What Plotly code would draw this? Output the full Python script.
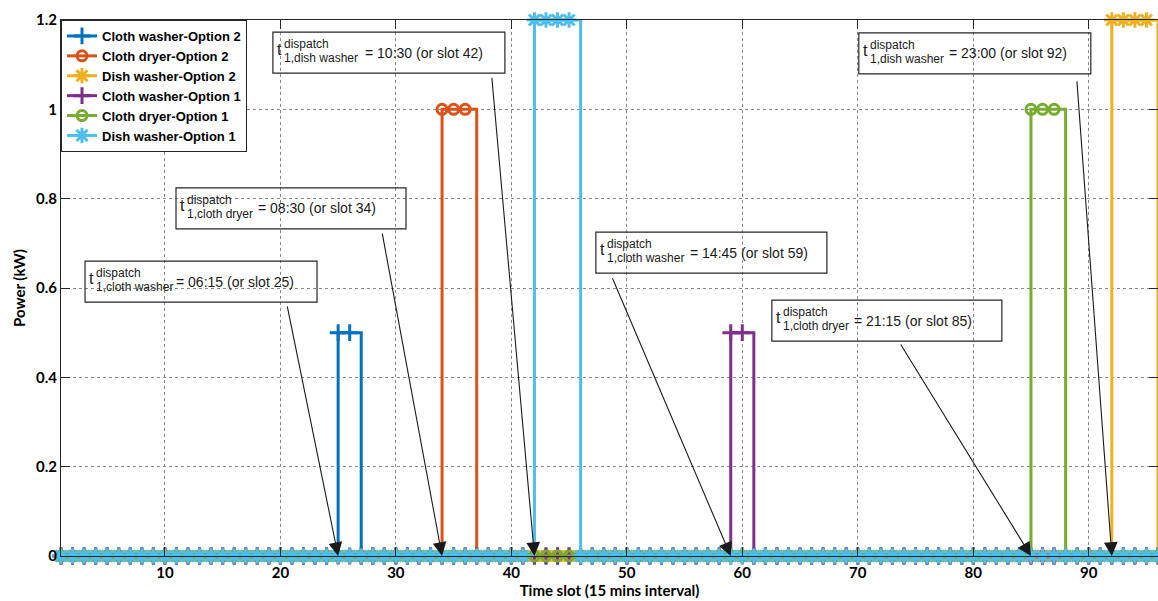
import plotly.graph_objects as go

# ---------------- data ----------------
slots = list(range(1, 97))

series_names = [
    "Cloth washer-Option 2",
    "Cloth dryer-Option 2",
    "Dish washer-Option 2",
    "Cloth washer-Option 1",
    "Cloth dryer-Option 1",
    "Dish washer-Option 1",
]
# slots in which each appliance is running, and its power (kW)
cloth_washer_opt2_on = [25, 26]
cloth_dryer_opt2_on = [34, 35, 36]
dish_washer_opt2_on = [92, 93, 94, 95]
cloth_washer_opt1_on = [59, 60]
cloth_dryer_opt1_on = [85, 86, 87]
dish_washer_opt1_on = [42, 43, 44, 45]
series_on = [cloth_washer_opt2_on, cloth_dryer_opt2_on, dish_washer_opt2_on,
             cloth_washer_opt1_on, cloth_dryer_opt1_on, dish_washer_opt1_on]
series_kw = [0.5, 1.0, 1.2, 0.5, 1.0, 1.2]

colors = ["#0072BD", "#D95319", "#EDB120", "#7E2F8E", "#77AC30", "#4DBEEE"]
symbols = ["cross-thin-open", "circle-open", "asterisk-open",
           "cross-thin-open", "circle-open", "asterisk-open"]
msizes = [12, 10, 13, 12, 10, 13]

# dispatch annotations
dispatch_appliance = ["cloth washer", "cloth dryer", "dish washer",
                      "cloth washer", "cloth dryer", "dish washer"]
dispatch_time = ["06:15", "08:30", "10:30", "14:45", "21:15", "23:00"]
dispatch_slot = [25, 34, 42, 59, 85, 92]

# ---------------- layout helpers (positions of label boxes) ----------------
box_anchor = [(3.08, 0.660), (10.96, 0.824), (19.35, 1.173),
              (47.32, 0.725), (62.56, 0.573), (70.09, 1.171)]
box_width = [232, 230, 232, 231, 230, 232]
box_height = 41
main_offset = [92, 83, 93, 95, 83, 91]
arrow_tail = [(20.57, 0.562), (28.8, 0.725), (38.3, 1.074),
              (48.7, 0.625), (73.64, 0.477), (88.97, 1.066)]

fig = go.Figure()
for name, on, kw, c, sym, ms in zip(series_names, series_on, series_kw,
                                     colors, symbols, msizes):
    vals = [kw if s in on else 0 for s in slots]
    fig.add_trace(go.Scatter(
        x=slots, y=vals, name=name, mode="lines+markers",
        line=dict(color=c, width=3, shape="hv"),
        marker=dict(symbol=sym, size=ms, color=c, line=dict(color=c, width=3)),
        cliponaxis=False,
    ))

txt_font = "Liberation Sans"
ink = "#1a1a1a"
shapes = []
annotations = []
for i in range(6):
    bx, by = box_anchor[i]
    shapes.append(dict(
        type="rect", xref="x", yref="y", xsizemode="pixel", ysizemode="pixel",
        xanchor=bx, yanchor=by, x0=0, x1=box_width[i], y0=0, y1=-box_height,
        line=dict(color="#262626", width=1.2), fillcolor="rgba(0,0,0,0)",
        layer="above"))

    def txt(t, dx, dy, size):
        annotations.append(dict(
            x=bx, y=by, xref="x", yref="y", text=t, showarrow=False,
            xanchor="left", yanchor="middle", xshift=dx, yshift=-dy,
            font=dict(family=txt_font, size=size, color=ink), borderpad=0))

    txt("t", 3, 17.5, 16)
    txt("dispatch", 10, 12, 12)
    txt("1," + dispatch_appliance[i], 10, 26, 12)
    txt("= %s (or slot %d)" % (dispatch_time[i], dispatch_slot[i]),
        main_offset[i] - 2, 20.5, 14)

    tx, ty = arrow_tail[i]
    annotations.append(dict(
        x=dispatch_slot[i], y=0, xref="x", yref="y",
        ax=tx, ay=ty, axref="x", ayref="y", text="", showarrow=True,
        arrowhead=2, arrowsize=2.5, arrowwidth=1.1, arrowcolor=ink, standoff=0))

axis_font = dict(family="Lato", size=15, color="black", weight="bold")
fig.update_layout(
    width=1158, height=601,
    margin=dict(l=61, r=0, t=20, b=45),
    plot_bgcolor="white", paper_bgcolor="white",
    shapes=shapes, annotations=annotations,
    legend=dict(x=0, y=1, xanchor="left", yanchor="top",
                bordercolor="#262626", borderwidth=1, bgcolor="white",
                font=dict(family="Liberation Sans", size=13, color="black",
                          weight="bold"),
                itemwidth=30, tracegroupgap=0),
    xaxis=dict(range=[1, 96], tick0=0, dtick=10, ticks="inside", ticklen=9,
               tickcolor="#262626", showline=True, linecolor="#262626",
               linewidth=1, mirror="ticks", showgrid=True,
               gridcolor="#8a8a8a", griddash="dot", gridwidth=1,
               zeroline=False, tickfont=axis_font, ticklabelstandoff=3,
               title=dict(text="Time slot (15 mins interval)", font=axis_font,
                          standoff=3)),
    yaxis=dict(range=[0, 1.2], tick0=0, dtick=0.2, ticks="inside", ticklen=9,
               tickcolor="#262626", showline=True, linecolor="#262626",
               linewidth=1, mirror="ticks", showgrid=True,
               gridcolor="#8a8a8a", griddash="dot", gridwidth=1,
               zeroline=False, tickfont=axis_font,
               title=dict(text="Power (kW)", font=axis_font, standoff=6)),
)

fig.write_html("out.html")
